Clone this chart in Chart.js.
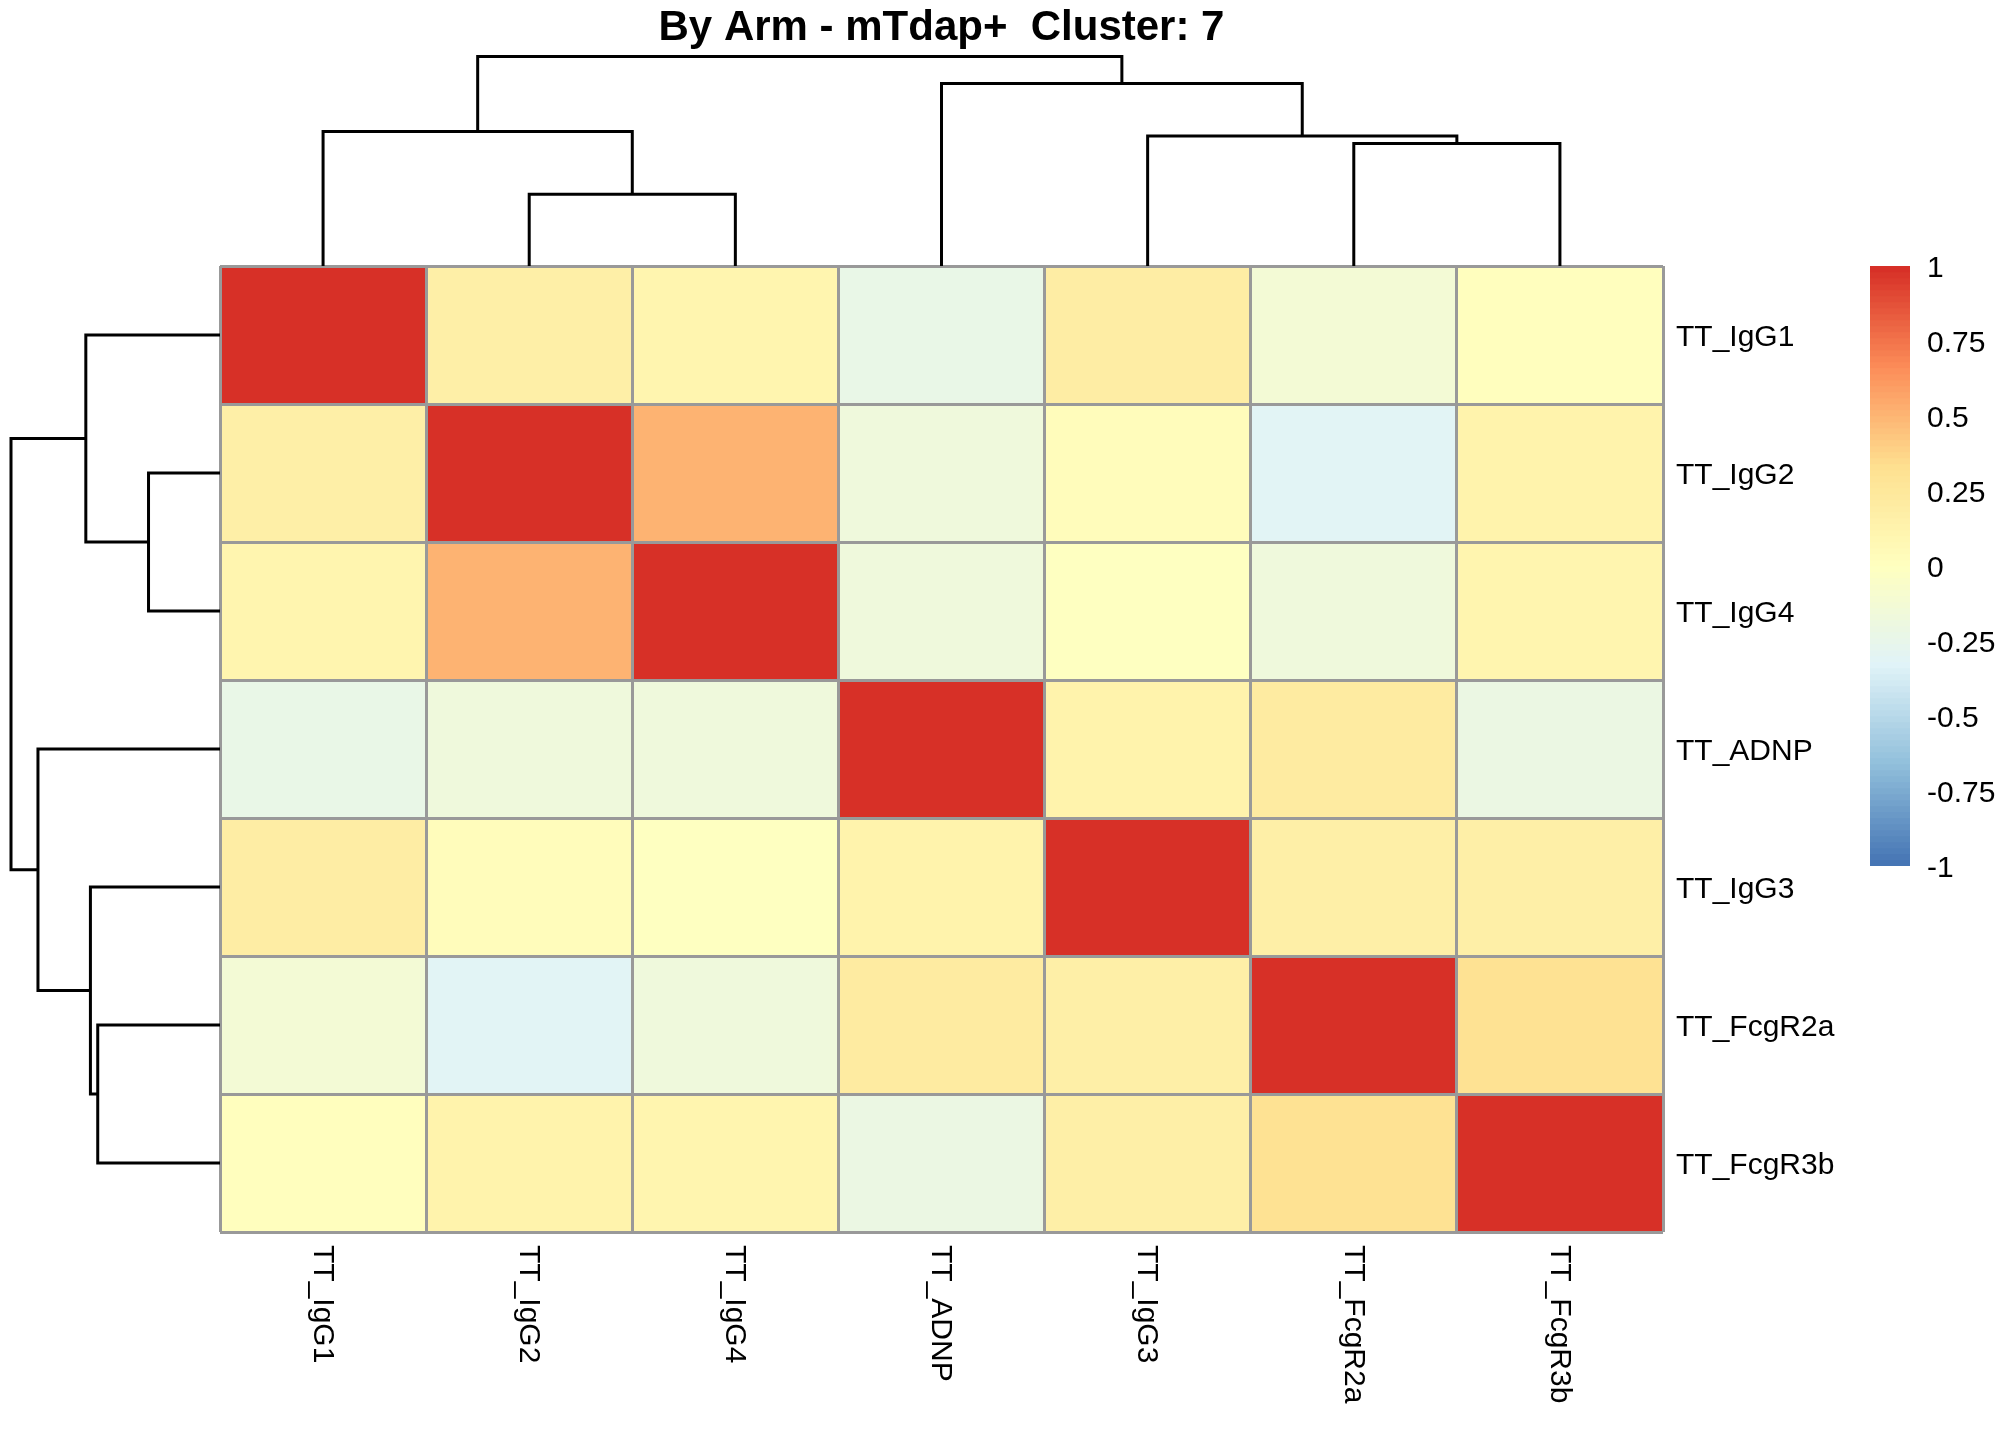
<!DOCTYPE html>
<html>
<head>
<meta charset="utf-8">
<script src="https://cdn.jsdelivr.net/npm/chart.js@4.4.1/dist/chart.umd.min.js"></script>
<style>
  html, body { margin: 0; padding: 0; background: #ffffff; }
  #wrap { position: relative; width: 2016px; height: 1440px; background: #ffffff; }
  #wrap canvas { position: absolute; left: 0; top: 0; }
</style>
</head>
<body>
<div id="wrap">
  <canvas id="heat" width="2016" height="1440"></canvas>
  <canvas id="legendbar" width="2016" height="1440"></canvas>
  <canvas id="dendTop" width="2016" height="1440"></canvas>
  <canvas id="dendLeft" width="2016" height="1440"></canvas>
</div>
<script>
// ---------------- DATA ----------------
const titleText = 'By Arm - mTdap+  Cluster: 7';
const rowLabels = ['TT_IgG1', 'TT_IgG2', 'TT_IgG4', 'TT_ADNP', 'TT_IgG3', 'TT_FcgR2a', 'TT_FcgR3b'];
const colLabels = ['TT_IgG1', 'TT_IgG2', 'TT_IgG4', 'TT_ADNP', 'TT_IgG3', 'TT_FcgR2a', 'TT_FcgR3b'];

// correlation values, one array per row (row order as displayed)
const rowIgG1   = [ 1.00,  0.17,  0.11, -0.23,  0.18, -0.13,  0.00];
const rowIgG2   = [ 0.17,  1.00,  0.50, -0.18,  0.02, -0.31,  0.12];
const rowIgG4   = [ 0.11,  0.50,  1.00, -0.18, -0.02, -0.17,  0.11];
const rowADNP   = [-0.23, -0.18, -0.18,  1.00,  0.13,  0.21, -0.22];
const rowIgG3   = [ 0.18,  0.02, -0.02,  0.13,  1.00,  0.17,  0.17];
const rowFcgR2a = [-0.13, -0.31, -0.17,  0.21,  0.17,  1.00,  0.30];
const rowFcgR3b = [ 0.00,  0.12,  0.11, -0.22,  0.17,  0.30,  1.00];
const matrixRows = [rowIgG1, rowIgG2, rowIgG4, rowADNP, rowIgG3, rowFcgR2a, rowFcgR3b];

// hierarchical clustering (same for rows and columns); leaves 0..6 in display order,
// merge m creates node 7 + m
const mergeLeft   = [1, 5, 0, 4, 3, 9];
const mergeRight  = [2, 6, 7, 8, 10, 11];
const mergeHeight = [0.342, 0.585, 0.642, 0.620, 0.871, 1.000];

// colour legend
const legendTicks = [-1, -0.75, -0.5, -0.25, 0, 0.25, 0.5, 0.75, 1];
const legendMin = -1, legendMax = 1, nColors = 100;
const paletteAnchors = ['#4575B4', '#91BFDB', '#E0F3F8', '#FFFFBF', '#FEE090', '#FC8D59', '#D73027'];

// ---------------- HELPERS ----------------
const FONT = "'Liberation Sans', Arial, Helvetica, sans-serif";
function hexToRgb(h) { return [parseInt(h.slice(1,3),16), parseInt(h.slice(3,5),16), parseInt(h.slice(5,7),16)]; }
const anchorRgb = paletteAnchors.map(hexToRgb);
function ramp(t) {
  const seg = t * (anchorRgb.length - 1);
  const i = Math.min(Math.floor(seg), anchorRgb.length - 2);
  const f = seg - i;
  const a = anchorRgb[i], b = anchorRgb[i + 1];
  const c = a.map((v, k) => Math.round(v + (b[k] - v) * f));
  return 'rgb(' + c.join(',') + ')';
}
const paletteColors = [];
for (let k = 0; k < nColors; k++) paletteColors.push(ramp(k / (nColors - 1)));
function colorFor(v) {
  let k = Math.floor((v - legendMin) / (legendMax - legendMin) * nColors);
  k = Math.max(0, Math.min(nColors - 1, k));
  return paletteColors[k];
}

const common = {
  responsive: false,
  animation: false,
  devicePixelRatio: 1,
  events: [],
};

// ---------------- HEATMAP ----------------
const cells = [], cellColors = [];
matrixRows.forEach((row, i) => {
  row.forEach((v, j) => {
    cells.push({ x: j + 0.5, y: [i, i + 1] });
    cellColors.push(colorFor(v));
  });
});

const gridOpts = { offset: false, color: '#999999', lineWidth: 3, drawTicks: false, z: 1 };

const colLabelPlugin = {
  id: 'colLabels',
  afterDraw(chart) {
    const { ctx, chartArea, scales } = chart;
    ctx.save();
    ctx.font = '30px ' + FONT;
    ctx.fillStyle = '#000000';
    ctx.textAlign = 'left';
    ctx.textBaseline = 'middle';
    colLabels.forEach((lab, j) => {
      const px = scales.x.getPixelForValue(j + 0.5);
      ctx.save();
      ctx.translate(px - 1, chartArea.bottom + 13);
      ctx.rotate(Math.PI / 2);
      ctx.fillText(lab, 0, 0);
      ctx.restore();
    });
    ctx.restore();
  }
};

new Chart(document.getElementById('heat'), {
  type: 'bar',
  data: {
    datasets: [{
      data: cells,
      backgroundColor: cellColors,
      borderWidth: 0,
      barPercentage: 1,
      categoryPercentage: 1,
      xAxisID: 'x',
      yAxisID: 'y'
    }]
  },
  options: Object.assign({}, common, {
    layout: { padding: { left: 220, top: 266, right: 153, bottom: 208 } },
    plugins: { legend: { display: false }, tooltip: { enabled: false }, title: { display: false } },
    scales: {
      x: {
        type: 'linear', min: 0, max: 7, offset: false, position: 'bottom', z: 1,
        grid: gridOpts, border: { display: false },
        ticks: { display: false, stepSize: 1 }
      },
      y: {
        type: 'linear', min: 0, max: 7, reverse: true, offset: false, position: 'left', z: 1,
        grid: gridOpts, border: { display: false },
        ticks: { display: false, stepSize: 1 }
      },
      yLab: {
        type: 'category', labels: rowLabels, position: 'right', offset: true,
        grid: { display: false, drawTicks: false }, border: { display: false },
        ticks: { font: { size: 30, family: FONT }, color: '#000000', padding: 13, autoSkip: false, labelOffset: 3 },
        afterFit: (s) => { s.width = 200; }
      }
    }
  }),
  plugins: [colLabelPlugin]
});

// ---------------- COLOUR LEGEND ----------------
const legendBins = [], legendColors = [];
for (let k = 0; k < nColors; k++) {
  const lo = legendMin + (legendMax - legendMin) * k / nColors;
  const hi = legendMin + (legendMax - legendMin) * (k + 1) / nColors;
  legendBins.push({ x: 0, y: [lo, hi] });
  legendColors.push(paletteColors[k]);
}
new Chart(document.getElementById('legendbar'), {
  type: 'bar',
  data: {
    datasets: [{
      data: legendBins,
      backgroundColor: legendColors,
      borderWidth: 0,
      barPercentage: 1,
      categoryPercentage: 1
    }]
  },
  options: Object.assign({}, common, {
    layout: { padding: { left: 1870, top: 266, right: 6, bottom: 574 } },
    plugins: { legend: { display: false }, tooltip: { enabled: false } },
    scales: {
      x: { type: 'linear', min: -0.5, max: 0.5, offset: false, display: false, grid: { offset: false } },
      y: {
        type: 'linear', position: 'right', min: legendMin, max: legendMax,
        grid: { display: false, drawTicks: false }, border: { display: false },
        ticks: {
          font: { size: 30, family: FONT }, color: '#000000', padding: 17, labelOffset: 3,
          callback: (v) => String(v)
        },
        afterBuildTicks: (s) => { s.ticks = legendTicks.map(v => ({ value: v })); },
        afterFit: (s) => { s.width = 100; }
      }
    }
  })
});

// ---------------- DENDROGRAMS ----------------
function buildLinks() {
  const pos = [], hgt = [];
  for (let i = 0; i < rowLabels.length; i++) { pos.push(i + 0.5); hgt.push(0); }
  const links = [];
  mergeLeft.forEach((a, m) => {
    const b = mergeRight[m], h = mergeHeight[m];
    links.push([[pos[a], hgt[a]], [pos[a], h], [pos[b], h], [pos[b], hgt[b]]]);
    pos.push((pos[a] + pos[b]) / 2);
    hgt.push(h);
  });
  return links;
}
const links = buildLinks();
function lineDataset(points) {
  return {
    data: points,
    showLine: true,
    borderColor: '#000000',
    borderWidth: 3,
    pointRadius: 0,
    fill: false,
    tension: 0,
    clip: false,
    borderJoinStyle: 'miter',
    borderCapStyle: 'butt'
  };
}

new Chart(document.getElementById('dendTop'), {
  type: 'scatter',
  data: { datasets: links.map(l => lineDataset(l.map(p => ({ x: p[0], y: p[1] })))) },
  options: Object.assign({}, common, {
    layout: { padding: { left: 220, top: 0, right: 353, bottom: 1174 } },
    plugins: {
      legend: { display: false }, tooltip: { enabled: false },
      title: {
        display: true, text: titleText, fullSize: false, align: 'center',
        color: '#000000', font: { size: 42, weight: 'bold', family: FONT, lineHeight: 1.2 },
        padding: { top: 3, bottom: 3 }
      }
    },
    scales: {
      x: { type: 'linear', min: 0, max: 7, display: false },
      y: { type: 'linear', min: 0, max: 1, display: false }
    }
  })
});

new Chart(document.getElementById('dendLeft'), {
  type: 'scatter',
  data: { datasets: links.map(l => lineDataset(l.map(p => ({ x: p[1], y: p[0] })))) },
  options: Object.assign({}, common, {
    layout: { padding: { left: 11, top: 266, right: 1796, bottom: 208 } },
    plugins: { legend: { display: false }, tooltip: { enabled: false } },
    scales: {
      x: { type: 'linear', min: 0, max: 1, reverse: true, display: false },
      y: { type: 'linear', min: 0, max: 7, reverse: true, display: false }
    }
  })
});
</script>
</body>
</html>
